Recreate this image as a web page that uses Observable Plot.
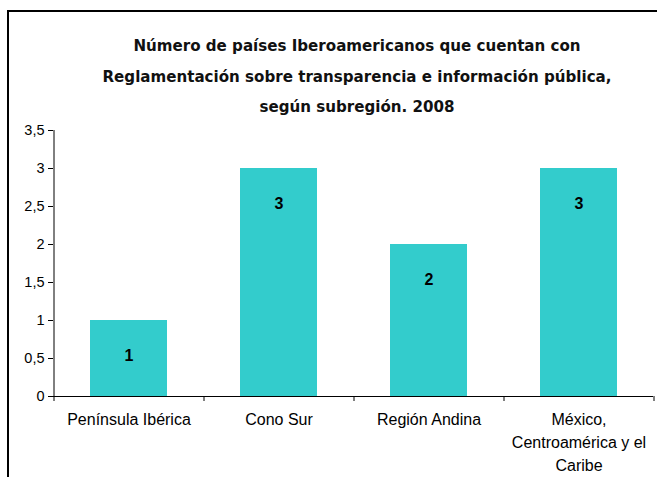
<!DOCTYPE html>
<html>
<head>
<meta charset="utf-8">
<script src="https://cdn.jsdelivr.net/npm/d3@7"></script>
<script src="https://cdn.jsdelivr.net/npm/@observablehq/plot@0.6"></script>
<style>
  html, body { margin: 0; padding: 0; background: #fff; }
  #wrap { position: relative; width: 657px; height: 477px; overflow: hidden; }
  #frame { position: absolute; left: 7px; top: 10px; width: 720px; height: 520px;
           border-left: 2px solid #000; border-top: 2px solid #000; }
  #title { position: absolute; left: 57px; width: 600px; top: 31px; text-align: center;
           font-family: "DejaVu Sans", sans-serif; font-weight: bold; font-size: 15.1px;
           line-height: 30.5px; color: #111; }
  #chart { position: absolute; left: 0; top: 0; }
  #chart svg g[aria-label="y-axis tick label"] { font-size: 14.5px; }
  #chart svg g[aria-label="x-axis tick label"] { font-size: 16px; }
</style>
</head>
<body>
<div id="wrap">
  <div id="frame"></div>
  <div id="chart"></div>
  <div id="title">Número de países Iberoamericanos que cuentan con<br>Reglamentación sobre transparencia e información pública,<br>según subregión. 2008</div>
</div>
<script>
const categories = ["Península Ibérica", "Cono Sur", "Región Andina", "México,\nCentroamérica y el\nCaribe"];
const values = [1, 3, 2, 3];
const yTicks = [0, 0.5, 1, 1.5, 2, 2.5, 3, 3.5];

const data = categories.map((c, i) => ({category: c, value: values[i]}));

const W = 657, H = 477, mL = 53, mR = 4, mT = 130, mB = 81;
const step = (W - mL - mR) / categories.length;
const fmt = d => String(d).replace(".", ",");

const chart = Plot.plot({
  width: W,
  height: H,
  marginLeft: mL,
  marginRight: mR,
  marginTop: mT,
  marginBottom: mB,
  style: {fontFamily: "'Liberation Sans', Arial, sans-serif", fontSize: "15px", color: "#000", background: "transparent"},
  x: {domain: categories, paddingInner: 0.49, paddingOuter: 0.245, align: 0.5, label: null},
  y: {domain: [0, 3.5], label: null},
  marks: [
    Plot.barY(data, {x: "category", y: "value", fill: "#33CCCC"}),
    Plot.text(data, {x: "category", y: "value", text: d => String(d.value), dy: 35,
      fontWeight: "bold", fontSize: 16, fill: "#000", lineAnchor: "middle"}),
    Plot.axisY({ticks: yTicks, tickFormat: fmt, tickSize: 5, tickPadding: 4, stroke: "#000", label: null}),
    Plot.axisX({tickSize: 0, tickPadding: 12, lineHeight: 1.44, label: null}),
    Plot.ruleY([0], {stroke: "#000"}),
    // y axis line (left edge of first band), extended as a tick below the baseline
    Plot.ruleX([categories[0]], {x: d => d, y1: 3.5, y2: 0, dx: -step / 2, insetBottom: -5, stroke: "#000"}),
    // category boundary ticks
    Plot.ruleX(categories, {x: d => d, y1: 0, y2: 0, dx: step / 2, insetBottom: -5, stroke: "#000"})
  ]
});
document.getElementById("chart").appendChild(chart);
</script>
</body>
</html>
